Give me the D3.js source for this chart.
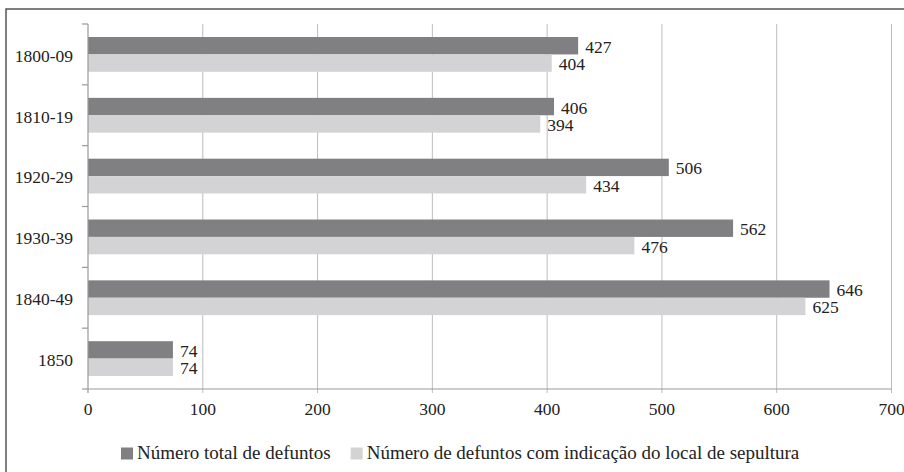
<!DOCTYPE html>
<html><head><meta charset="utf-8">
<script src="https://cdn.jsdelivr.net/npm/d3@7"></script>
</head><body style="margin:0;background:#fff">
<svg id="c" width="904" height="472" style="display:block"></svg>
<script>
const categories = ["1800-09","1810-19","1920-29","1930-39","1840-49","1850"];
const totalDefuntos = [427,406,506,562,646,74];
const comIndicacao = [404,394,434,476,625,74];
const xTicks = [0,100,200,300,400,500,600,700];
const seriesNames = ["Número total de defuntos","Número de defuntos com indicação do local de sepultura"];
const colors = ["#808083","#d3d3d5"];

const FONT = "Liberation Serif";
const svg = d3.select("#c");
const m = {left:88, right:891.5, top:24, bottom:389};
const fs = 17.5;
function txt(sel, size){ return sel.attr("font-family",FONT).style("font-family","'Liberation Serif', 'Times New Roman', serif").attr("font-size",size||fs).attr("fill","#222"); }

svg.append("rect").attr("x",6).attr("y",9).attr("width",910).attr("height",480)
  .attr("fill","none").attr("stroke","#555").attr("stroke-width",1.5);

const x = d3.scaleLinear().domain([0,700]).range([m.left,m.right]);
const y = d3.scaleBand().domain(categories).range([m.top,m.bottom]);
const barH = 17.4;

// gridlines
svg.append("g").selectAll("line").data(xTicks.slice(1)).join("line")
  .attr("x1",d=>x(d)).attr("x2",d=>x(d)).attr("y1",m.top).attr("y2",m.bottom+4)
  .attr("stroke","#bdbdbd").attr("stroke-width",1);

// bars
const data = categories.map((c,i)=>({c, v:[totalDefuntos[i], comIndicacao[i]]}));
data.forEach(d=>{
  const cy = y(d.c)+y.bandwidth()/2;
  d.v.forEach((v,k)=>{
    const top = cy - barH + k*barH;
    svg.append("rect").attr("x",x(0)).attr("y",top).attr("width",x(v)-x(0)).attr("height",barH).attr("fill",colors[k]);
    txt(svg.append("text")).attr("x",x(v)+7).attr("y",top+barH/2+7).text(v);
  });
});

// y axis
svg.append("line").attr("x1",m.left).attr("x2",m.left).attr("y1",m.top).attr("y2",m.bottom+4).attr("stroke","#999").attr("stroke-width",1.2);
const bounds = categories.map(c=>y(c)).concat([m.bottom]);
svg.append("g").selectAll("line").data(bounds).join("line")
  .attr("x1",m.left-6).attr("x2",m.left).attr("y1",d=>d).attr("y2",d=>d).attr("stroke","#999").attr("stroke-width",1.2);
txt(svg.append("g").selectAll("text").data(categories).join("text"))
  .attr("x",73).attr("y",d=>y(d)+y.bandwidth()/2+7.3).attr("text-anchor","end").text(d=>d);

// x axis
svg.append("line").attr("x1",m.left).attr("x2",m.right).attr("y1",m.bottom).attr("y2",m.bottom).attr("stroke","#999").attr("stroke-width",1.2);
txt(svg.append("g").selectAll("text").data(xTicks).join("text"))
  .attr("x",d=>x(d)).attr("y",415).attr("text-anchor","middle").text(d=>d);

// legend
const lg = svg.append("g");
let lx = 121;
seriesNames.forEach((n,k)=>{
  lg.append("rect").attr("x",lx).attr("y",447.5).attr("width",12).attr("height",12).attr("fill",colors[k]);
  const t = txt(lg.append("text"),19).attr("x",lx+16).attr("y",459).text(n);
  lx += 16 + t.node().getComputedTextLength() + 20;
});
</script>
</body></html>
